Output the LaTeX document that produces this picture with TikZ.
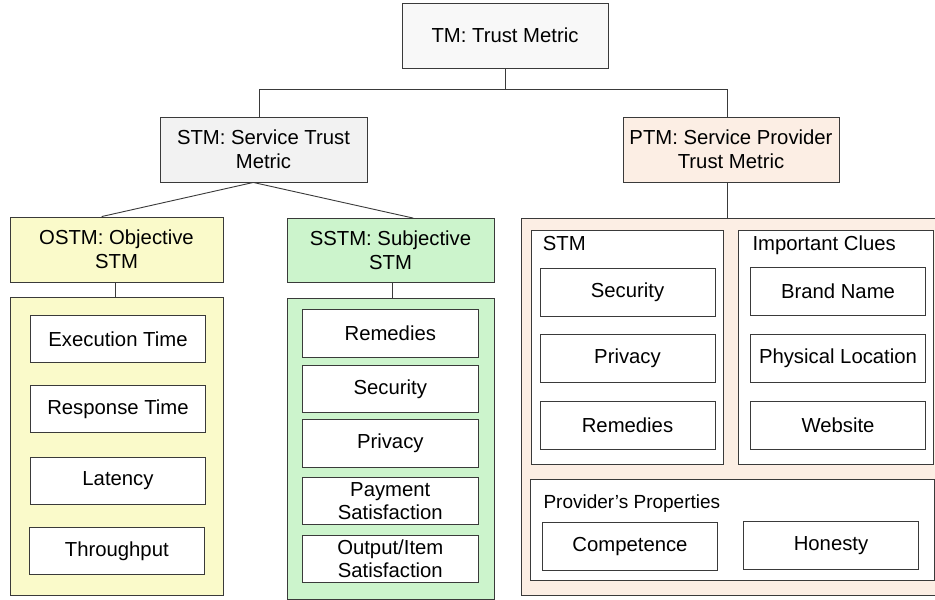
\documentclass[tikz,border=0pt]{standalone}
\usepackage{fontspec}
\setmainfont{Liberation Sans}
\definecolor{linec}{HTML}{3A3A3A}
\definecolor{tmfill}{HTML}{F8F8F8}
\definecolor{stmfill}{HTML}{F2F2F2}
\definecolor{ptmfill}{HTML}{FCEEE4}
\definecolor{ofill}{HTML}{FAFACA}
\definecolor{sfill}{HTML}{CCF4CC}
\newcommand{\fsz}{\fontsize{20.3}{23.7}\selectfont}
\begin{document}
\begin{tikzpicture}[x=1pt,y=-1pt,
  box/.style={draw=linec, line width=0.9pt, align=center, inner sep=0pt, font=\fsz, text=black},
  item/.style={box, fill=white, minimum width=175.5pt, minimum height=47.5pt},
  lbl/.style={inner sep=0pt, font=\fsz, text=black},
  conn/.style={draw=linec, line width=0.9pt}]
\useasboundingbox (0,0) rectangle (935,600);
\clip (0,0) rectangle (935,600);
\fill[white] (0,0) rectangle (935,600);

% top level
\node[box, fill=tmfill, minimum width=206pt, minimum height=65pt] (tm) at (505,35.5) {TM: Trust Metric};
\node[box, fill=stmfill, minimum width=207pt, minimum height=65pt] (stm) at (263.5,149.5) {STM: Service Trust\\Metric};
\node[box, fill=ptmfill, minimum width=216pt, minimum height=65pt] (ptm) at (731,149.5) {PTM: Service Provider\\Trust Metric};

% second level
\node[box, fill=ofill, minimum width=213pt, minimum height=65pt] (ostm) at (116.5,249.5) {OSTM: Objective\\STM};
\node[box, fill=sfill, minimum width=207pt, minimum height=63.5pt] (sstm) at (390.5,250.3) {SSTM: Subjective\\STM};

% containers
\node[box, fill=ofill, minimum width=213pt, minimum height=298pt] (ocont) at (116.5,446) {};
\node[box, fill=sfill, minimum width=207pt, minimum height=301pt] (scont) at (390.5,448.5) {};
\node[box, fill=ptmfill, minimum width=439pt, minimum height=377pt] (pcont) at (740.5,407.1) {};

% OSTM items
\node[item] (exec) at (118,339) {Execution Time};
\node[item] (resp) at (118,409) {Response Time};
\node[item] (lat) at (118,481) {Latency};
\node[item] (thr) at (116.8,551) {Throughput};

% SSTM items
\node[item] (srem) at (390.3,333.3) {Remedies};
\node[item] (ssec) at (390.3,389) {Security};
\node[item] (spriv) at (390.3,443.5) {Privacy};
\node[item] (spay) at (390.3,501) {Payment\\Satisfaction};
\node[item] (sout) at (390.3,558.7) {Output/Item\\Satisfaction};

% PTM inner groups
\node[box, fill=white, minimum width=191.6pt, minimum height=233.6pt] (pstm) at (627.5,347.5) {};
\node[box, fill=white, minimum width=194.6pt, minimum height=233.6pt] (pic) at (836,347.5) {};
\node[box, fill=white, minimum width=403.3pt, minimum height=100.7pt] (ppp) at (732.3,529.7) {};
\node[lbl, anchor=base west] (pstmlbl) at (542.7,250.7) {STM};
\node[lbl, anchor=base west] (piclbl) at (752.3,250.7) {Important Clues};
\node[lbl, anchor=base west, font=\fontsize{19}{22}\selectfont] (ppplbl) at (543.3,508.3) {Provider’s Properties};

\node[item, minimum width=175pt] (psec) at (627.5,292.2) {Security};
\node[item, minimum width=175pt] (ppriv) at (627.5,358.2) {Privacy};
\node[item, minimum width=175pt] (prem) at (627.5,425.5) {Remedies};
\node[item] (pbrand) at (838,291.2) {Brand Name};
\node[item] (pphys) at (838,358.2) {Physical Location};
\node[item] (pweb) at (838,425.5) {Website};
\node[item] (pcomp) at (630,546.2) {Competence};
\node[item] (phon) at (831,545.2) {Honesty};

% connectors
\coordinate (jl) at (259.3,89.3);
\coordinate (jr) at (727.7,89.3);
\draw[conn] (tm.south) -- (tm.south |- jl);
\draw[conn] (stm.north -| jl) -- (jl) -- (jr) -- (ptm.north -| jr);
\draw[conn] ([xshift=-10.2pt]stm.south) -- ([xshift=-14.8pt]ostm.north);
\draw[conn] ([xshift=-10.2pt]stm.south) -- ([xshift=22.8pt]sstm.north);
\draw[conn] ([xshift=-1.5pt]ostm.south) -- ([xshift=-1.5pt]ocont.north);
\draw[conn] ([xshift=1.5pt]sstm.south) -- ([xshift=1.5pt]sstm.south |- scont.north);
\draw[conn] (ptm.south -| jr) -- (pcont.north -| jr);
\end{tikzpicture}
\end{document}
